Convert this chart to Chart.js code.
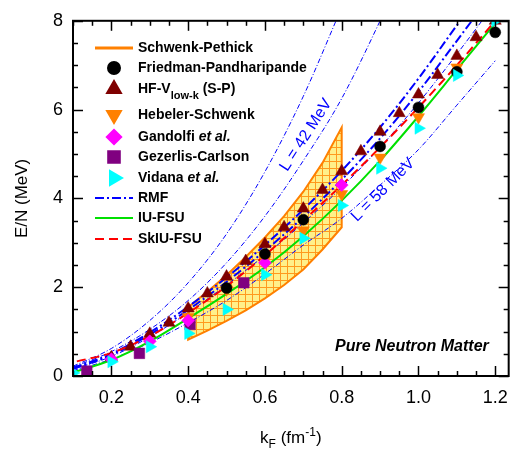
<!DOCTYPE html>
<html>
<head>
<meta charset="utf-8">
<script src="https://cdn.jsdelivr.net/npm/chart.js@4.4.0/dist/chart.umd.min.js"></script>
<style>
  html, body { margin: 0; padding: 0; background: #fff; }
  canvas { display: block; }
</style>
</head>
<body>
<canvas id="c" width="519" height="450"></canvas>
<script>
// ---- data (kF in fm^-1, E/N in MeV) ----
const kGrid = [0.1, 0.2, 0.3, 0.4, 0.5, 0.6, 0.7, 0.8, 0.9, 1.0, 1.1, 1.2];

// Schwenk-Pethick band
const bandK = [0.4, 0.45, 0.5, 0.55, 0.6, 0.65, 0.7, 0.75, 0.8];
const bandUpper = [1.55, 1.9, 2.27, 2.68, 3.12, 3.6, 4.15, 4.8, 5.6];
const bandLower = [0.82, 1.02, 1.24, 1.48, 1.75, 2.05, 2.4, 2.85, 3.35];

// HF-Vlow-k (S-P)
const hfK = [0.2, 0.25, 0.3, 0.35, 0.4, 0.45, 0.5, 0.55, 0.6, 0.65, 0.7, 0.75, 0.8, 0.85, 0.9, 0.95, 1.0, 1.05, 1.1, 1.15, 1.2];
const hfE = [0.42, 0.66, 0.95, 1.2, 1.52, 1.86, 2.24, 2.59, 2.97, 3.35, 3.77, 4.19, 4.61, 5.06, 5.5, 5.92, 6.34, 6.78, 7.21, 7.63, 8.0];

// Friedman-Pandharipande
const fpK = [0.5, 0.6, 0.7, 0.9, 1.0, 1.1, 1.2];
const fpE = [1.98, 2.75, 3.52, 5.17, 6.05, 6.85, 7.74];

// Hebeler-Schwenk
const hsK = [0.4, 0.5, 0.6, 0.7, 0.8, 0.9, 1.0, 1.1];
const hsE = [1.33, 1.95, 2.62, 3.28, 4.1, 4.92, 5.83, 6.95];

// Gandolfi et al.
const gaK = [0.2, 0.3, 0.4, 0.6, 0.8];
const gaE = [0.38, 0.78, 1.25, 2.55, 4.3];

// Gezerlis-Carlson
const gcK = [0.136, 0.273, 0.405, 0.545];
const gcE = [0.11, 0.51, 1.16, 2.1];

// Vidana et al.
const viK = [0.1, 0.2, 0.3, 0.4, 0.5, 0.6, 0.7, 0.8, 0.9, 1.0, 1.1, 1.2];
const viE = [0.07, 0.32, 0.66, 0.96, 1.5, 2.28, 3.1, 3.84, 4.68, 5.58, 6.77, 8.0];

// RMF family (on kGrid)
const rmfU1 = [0.22, 0.62, 1.25, 2.1, 3.2, 4.6, 6.3, 8.3];
const rmfL42 = [0.2, 0.55, 1.05, 1.7, 2.55, 3.6, 4.85, 6.25, 8.0, 9.9];
const rmfA = [0.18, 0.5, 0.98, 1.56, 2.22, 2.95, 3.75, 4.62, 5.6, 6.7, 7.9, 9.1];
const rmfB = [0.16, 0.47, 0.93, 1.49, 2.12, 2.82, 3.58, 4.42, 5.35, 6.4, 7.55, 8.7];
const rmfC = [0.15, 0.44, 0.88, 1.43, 2.05, 2.72, 3.45, 4.25, 5.15, 6.15, 7.25, 8.4];
const rmfL58 = [0.12, 0.38, 0.75, 1.2, 1.7, 2.3, 2.95, 3.55, 4.3, 5.1, 6.1, 7.1];

// IU-FSU
const iuE = [0.08, 0.36, 0.78, 1.3, 1.85, 2.45, 3.15, 3.95, 4.85, 5.85, 6.9, 7.95];

// SkIU-FSU
const skK = [0.11, 0.2, 0.3, 0.4, 0.5, 0.6, 0.7, 0.8, 0.9, 1.0, 1.1, 1.2];
const skE = [0.33, 0.52, 0.9, 1.42, 2.02, 2.72, 3.5, 4.3, 5.15, 6.05, 7.0, 8.0];

// axes
const xTickVals = [0.2, 0.4, 0.6, 0.8, 1.0, 1.2];
const xTickLabels = ['0.2', '0.4', '0.6', '0.8', '1.0', '1.2'];
const yTickLabels = ['0', '2', '4', '6', '8'];

// ---- helpers ----
const pts = (ks, es) => es.map((e, i) => ({ x: ks[i], y: e }));

function hatchPattern() {
  const c = document.createElement('canvas');
  c.width = 7; c.height = 7;
  const g = c.getContext('2d');
  g.fillStyle = '#FFF08A';
  g.fillRect(0, 0, 7, 7);
  g.fillStyle = '#FF9A1E';
  g.fillRect(0, 0, 7, 1);
  g.fillRect(0, 0, 1, 7);
  return g.createPattern(c, 'repeat');
}

const bandPoly = pts(bandK, bandUpper)
  .concat(pts(bandK, bandLower).reverse());
bandPoly.push(bandPoly[0]);

const BLUE = '#0000FF';
const FONT = '"Liberation Sans", Arial, sans-serif';
const curve = (data, color, width, dash, order) => ({
  data, borderColor: color, borderWidth: width, borderDash: dash,
  pointRadius: 0, fill: false, cubicInterpolationMode: 'monotone', order
});
const markers = (data, color, style, radius, rotation, order) => ({
  data, showLine: false, pointStyle: style, pointRadius: radius, pointRotation: rotation,
  backgroundColor: color, borderColor: color, pointBorderWidth: 0.5, order
});

const THIN = [5, 2, 1, 2];
const THICK = [9, 3, 2, 3];

// ---- overlay: frame, inward ticks, titles, labels, legend ----
const overlay = {
  id: 'overlay',
  afterDraw(chart) {
    const { ctx, chartArea: a, scales: { x, y } } = chart;
    ctx.save();

    // inward ticks on all four sides
    ctx.strokeStyle = '#000';
    ctx.lineWidth = 1.5;
    const seg = (x1, y1, x2, y2) => { ctx.beginPath(); ctx.moveTo(x1, y1); ctx.lineTo(x2, y2); ctx.stroke(); };
    for (let i = 0; i <= 22; i++) {
      const v = 0.1 + i * 0.05;
      const major = xTickVals.some(t => Math.abs(t - v) < 1e-6);
      const len = major ? 10 : 5;
      const px = Math.round(x.getPixelForValue(v)) + 0.5;
      seg(px, a.bottom, px, a.bottom - len);
      seg(px, a.top, px, a.top + len);
    }
    for (let i = 0; i <= 16; i++) {
      const v = i * 0.5;
      const len = i % 4 === 0 ? 10 : 5;
      const py = Math.round(y.getPixelForValue(v)) + 0.5;
      seg(a.left, py, a.left + len, py);
      seg(a.right, py, a.right - len, py);
    }
    ctx.lineWidth = 2;
    ctx.strokeRect(a.left, a.top, a.right - a.left, a.bottom - a.top);

    // axis titles
    ctx.fillStyle = '#000';
    ctx.font = '17px ' + FONT;
    ctx.textAlign = 'center';
    ctx.textBaseline = 'middle';
    ctx.save();
    ctx.translate(22, (a.top + a.bottom) / 2);
    ctx.rotate(-Math.PI / 2);
    ctx.fillText('E/N (MeV)', 0, 0);
    ctx.restore();

    const big = '17px ' + FONT;
    const small = '12px ' + FONT;
    const parts = [['k', big, 0], ['F', small, 5], [' (fm', big, 0], ['-1', small, -7], [')', big, 0]];
    ctx.textAlign = 'left';
    ctx.textBaseline = 'alphabetic';
    let tw = 0;
    parts.forEach(p => { ctx.font = p[1]; tw += ctx.measureText(p[0]).width; });
    let cx = (a.left + a.right) / 2 - tw / 2;
    parts.forEach(p => { ctx.font = p[1]; ctx.fillText(p[0], cx, 443 + p[2]); cx += ctx.measureText(p[0]).width; });

    // annotation texts
    ctx.font = 'bold italic 16px ' + FONT;
    ctx.fillText('Pure Neutron Matter', 335, 351);

    ctx.fillStyle = BLUE;
    ctx.font = '16px ' + FONT;
    ctx.textAlign = 'center';
    ctx.textBaseline = 'middle';
    [['L = 42 MeV', 306, 135, -57], ['L = 58 MeV', 383, 190, -45]].forEach(t => {
      ctx.save();
      ctx.translate(t[1], t[2]);
      ctx.rotate(t[3] * Math.PI / 180);
      ctx.fillText(t[0], 0, 0);
      ctx.restore();
    });

    // legend
    const lx = 114, tx = 138;
    const bold = 'bold 14px ' + FONT;
    const boldIt = 'bold italic 14px ' + FONT;
    const entries = [
      { y: 48, line: '#FF8000', w: 3, dash: [], text: [['Schwenk-Pethick', bold]] },
      { y: 68, pt: ['circle', 5.5, 0, '#000'], text: [['Friedman-Pandharipande', bold]] },
      { y: 89, pt: ['triangle', 7, 0, '#7F0000'], text: [['HF-V', bold], ['low-k', 'bold 11px ' + FONT, 7], [' (S-P)', bold]] },
      { y: 115, pt: ['triangle', 7, 180, '#FF8000'], text: [['Hebeler-Schwenk', bold]] },
      { y: 137, pt: ['rectRot', 6.5, 0, '#FF00FF'], text: [['Gandolfi ', bold], ['et al.', boldIt]] },
      { y: 157, pt: ['rect', 7.5, 0, '#800080'], text: [['Gezerlis-Carlson', bold]] },
      { y: 178, pt: ['triangle', 7, 90, '#00FFFF'], text: [['Vidana ', bold], ['et al.', boldIt]] },
      { y: 198, line: BLUE, w: 2, dash: THICK, text: [['RMF', bold]] },
      { y: 218, line: '#00E000', w: 2, dash: [], text: [['IU-FSU', bold]] },
      { y: 239, line: '#FF0000', w: 2, dash: [9, 5], text: [['SkIU-FSU', bold]] }
    ];
    entries.forEach(e => {
      if (e.line) {
        ctx.strokeStyle = e.line;
        ctx.lineWidth = e.w;
        ctx.setLineDash(e.dash);
        seg(95, e.y, 133, e.y);
        ctx.setLineDash([]);
      } else {
        ctx.fillStyle = e.pt[3];
        ctx.strokeStyle = e.pt[3];
        Chart.helpers.drawPoint(ctx, { pointStyle: e.pt[0], radius: e.pt[1], rotation: e.pt[2], borderWidth: 0.5 }, lx, e.y);
      }
      ctx.fillStyle = '#000';
      ctx.textAlign = 'left';
      ctx.textBaseline = 'middle';
      let px = tx;
      e.text.forEach(t => {
        ctx.font = t[1];
        ctx.fillText(t[0], px, e.y + (t[2] || 0));
        px += ctx.measureText(t[0]).width;
      });
    });

    ctx.restore();
  }
};

new Chart(document.getElementById('c'), {
  type: 'line',
  data: {
    datasets: [
      { data: bandPoly, borderColor: '#FF8000', borderWidth: 2, backgroundColor: hatchPattern(),
        fill: 'shape', pointRadius: 0, tension: 0, order: 20 },
      curve(pts(kGrid, rmfU1), BLUE, 1, THIN, 12),
      curve(pts(kGrid, rmfL42), BLUE, 1, THIN, 12),
      curve(pts(kGrid, rmfA), BLUE, 2, THICK, 12),
      curve(pts(kGrid, rmfB), BLUE, 2, THICK, 12),
      curve(pts(kGrid, rmfC), BLUE, 1, THIN, 12),
      curve(pts(kGrid, rmfL58), BLUE, 1, THIN, 12),
      curve(pts(kGrid, iuE), '#00E000', 2, [], 11),
      curve(pts(skK, skE), '#FF0000', 2, [9, 5], 10),
      markers(pts(hfK, hfE), '#7F0000', 'triangle', 7, 0, 6),
      markers(pts(gcK, gcE), '#800080', 'rect', 7.5, 0, 5),
      markers(pts(hsK, hsE), '#FF8000', 'triangle', 7, 180, 5),
      markers(pts(gaK, gaE), '#FF00FF', 'rectRot', 6.5, 0, 4),
      markers(pts(fpK, fpE), '#000000', 'circle', 5.5, 0, 3),
      markers(pts(viK, viE), '#00FFFF', 'triangle', 7, 90, 2)
    ]
  },
  options: {
    responsive: false,
    animation: false,
    events: [],
    layout: { padding: { top: 15, right: 7, left: 0, bottom: 0 } },
    plugins: { legend: { display: false }, tooltip: { enabled: false } },
    scales: {
      x: {
        type: 'linear', min: 0.1, max: 1.235,
        grid: { display: false, drawTicks: false },
        border: { display: false },
        afterBuildTicks: s => { s.ticks = xTickVals.map(v => ({ value: v })); },
        afterFit: s => { s.height = 74; },
        ticks: {
          padding: 11, color: '#000',
          font: { size: 18, family: FONT },
          callback: (v) => xTickLabels[xTickVals.findIndex(t => Math.abs(t - v) < 1e-6)]
        }
      },
      y: {
        min: 0, max: 8,
        grid: { display: false, drawTicks: false },
        border: { display: false },
        afterBuildTicks: s => { s.ticks = yTickLabels.map(v => ({ value: Number(v) })); },
        afterFit: s => { s.width = 73; },
        ticks: {
          padding: 10, color: '#000',
          font: { size: 18, family: FONT },
          callback: (v) => String(v)
        }
      }
    }
  },
  plugins: [overlay]
});
</script>
</body>
</html>
